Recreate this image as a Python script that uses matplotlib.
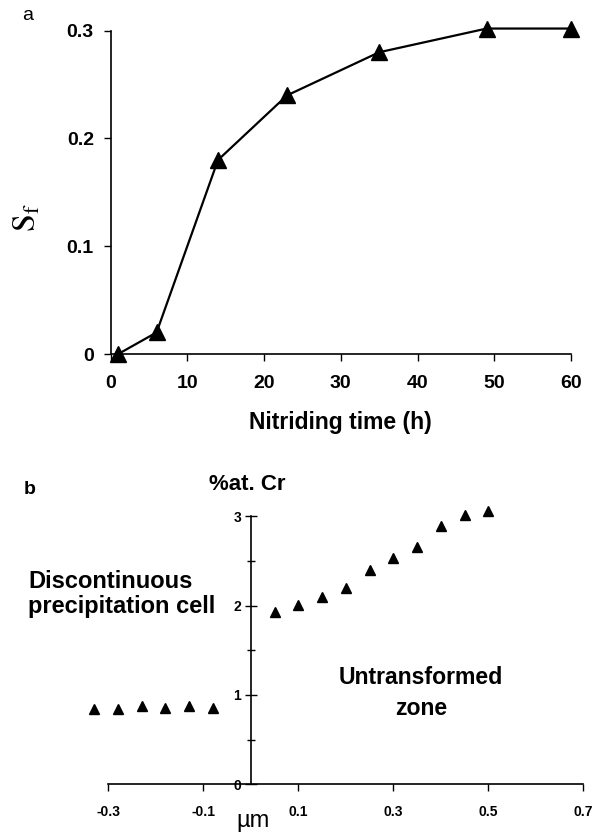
import matplotlib
matplotlib.use("Agg")
import matplotlib.pyplot as plt
from matplotlib.ticker import MultipleLocator, NullFormatter

plt.rcParams['font.family'] = ['Liberation Sans', 'DejaVu Sans']
plt.rcParams['mathtext.fontset'] = 'stix'

# Panel a data
time_h = [1, 6, 14, 23, 35, 49, 60]
sf = [0.0, 0.02, 0.18, 0.24, 0.28, 0.302, 0.302]
a_xticks = [0, 10, 20, 30, 40, 50, 60]
a_yticks = [0, 0.1, 0.2, 0.3]
a_yticklabels = ['0', '0.1', '0.2', '0.3']

# Panel b data
pos_left = [-0.33, -0.28, -0.23, -0.18, -0.13, -0.08]
cr_left = [0.84, 0.84, 0.88, 0.85, 0.88, 0.86]
pos_right = [0.05, 0.10, 0.15, 0.20, 0.25, 0.30, 0.35, 0.40, 0.45, 0.50]
cr_right = [1.93, 2.01, 2.10, 2.19, 2.40, 2.53, 2.65, 2.89, 3.01, 3.06]
b_xticks = [-0.3, -0.1, 0.1, 0.3, 0.5, 0.7]
b_xticklabels = ['-0.3', '-0.1', '0.1', '0.3', '0.5', '0.7']
b_yticks = [0, 1, 2, 3]

fig = plt.figure(figsize=(6.03, 8.32), dpi=100)

# ---------- Panel a ----------
axa = fig.add_axes([0.1833, 0.5745, 0.7637, 0.3886])
axa.plot(time_h, sf, color='black', lw=1.6, marker='^', markersize=11,
         clip_on=False, zorder=3)
axa.set_xlim(0, 60)
axa.set_ylim(0, 0.3)
for s in ['top', 'right']:
    axa.spines[s].set_visible(False)
axa.spines['left'].set_linewidth(1.2)
axa.spines['bottom'].set_linewidth(1.2)
axa.set_xticks(a_xticks)
axa.set_xticklabels([str(v) for v in a_xticks])
axa.set_yticks(a_yticks)
axa.set_yticklabels(a_yticklabels)
axa.tick_params(axis='x', direction='out', length=5, width=1, pad=10,
                labelsize=14)
axa.tick_params(axis='y', direction='out', length=5, width=1, pad=7,
                labelsize=14)
for lab in axa.get_xticklabels() + axa.get_yticklabels():
    lab.set_fontweight('bold')
axa.set_xlabel('Nitriding time (h)', fontsize=16.5, fontweight='bold',
               labelpad=14)
fig.text(27 / 603, 1 - 218 / 832, r'$\mathrm{S_f}$', fontsize=23,
         rotation=90, ha='center', va='center')
fig.text(28 / 603, 1 - 16 / 832, 'a', fontsize=14, ha='center',
         va='center')

# ---------- Panel b ----------
axb = fig.add_axes([0.1796, 0.0571, 0.7877, 0.3227])
axb.plot(pos_left, cr_left, ls='none', marker='^', color='black',
         markersize=7, clip_on=False)
axb.plot(pos_right, cr_right, ls='none', marker='^', color='black',
         markersize=7, clip_on=False)
axb.set_xlim(-0.3, 0.7)
axb.set_ylim(0, 3)
for s in ['top', 'right']:
    axb.spines[s].set_visible(False)
axb.spines['left'].set_position(('data', 0))
axb.spines['left'].set_linewidth(1.2)
axb.spines['bottom'].set_linewidth(1.2)
axb.set_xticks(b_xticks)
axb.set_xticklabels(b_xticklabels)
axb.set_yticks(b_yticks)
axb.set_yticklabels([str(v) for v in b_yticks])
axb.yaxis.set_minor_locator(MultipleLocator(0.5))
axb.yaxis.set_minor_formatter(NullFormatter())
axb.tick_params(axis='x', direction='out', length=5, width=1, pad=10,
                labelsize=10)
axb.tick_params(axis='y', which='major', direction='inout', length=8,
                width=1, pad=3, labelsize=10)
axb.tick_params(axis='y', which='minor', direction='inout', length=6,
                width=1)
for lab in axb.get_xticklabels() + axb.get_yticklabels():
    lab.set_fontweight('bold')

fig.text(247 / 603, 1 - 485 / 832, '%at. Cr', fontsize=16,
         fontweight='bold', ha='center', va='center')
fig.text(253 / 603, 1 - 821 / 832, 'µm', fontsize=17,
         ha='center', va='center')
fig.text(30 / 603, 1 - 490 / 832, 'b', fontsize=14, fontweight='bold',
         ha='center', va='center')
fig.text(28 / 603, 1 - 594 / 832, 'Discontinuous\nprecipitation cell',
         fontsize=17, fontweight='bold', ha='left', va='center',
         linespacing=1.15)
fig.text(421 / 603, 1 - 693 / 832, 'Untransformed\nzone',
         fontsize=16.6, fontweight='bold', ha='center', va='center',
         linespacing=1.45)

fig.savefig('out.png', dpi=100)
